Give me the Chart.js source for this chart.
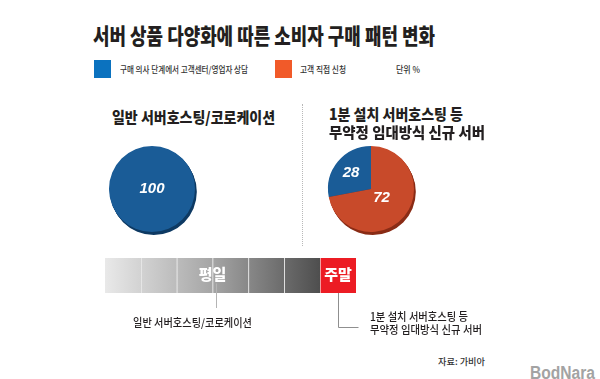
<!DOCTYPE html>
<html><head><meta charset="utf-8">
<script src="https://cdn.jsdelivr.net/npm/chart.js@4.4.1/dist/chart.umd.min.js"></script>
<style>
body{margin:0;background:#fff}
#wrap{position:relative;width:600px;height:379px;overflow:hidden;background:#fff;font-family:"Noto Sans CJK KR","Noto Sans",sans-serif;color:#231f20}
.t{position:absolute;white-space:nowrap;line-height:1;transform-origin:0 50%}
.box{position:absolute}
canvas{display:block}
</style></head><body>
<div id="wrap">
  <div class="box" style="left:302px;top:104px;height:142px;border-left:1px dotted #b8b8b8"></div>
  <canvas id="pieLeft" class="box" width="120" height="120" style="left:92px;top:129px"></canvas>
  <canvas id="pieRight" class="box" width="120" height="120" style="left:311px;top:129px"></canvas>
  <canvas id="bar" class="box" width="600" height="100" style="left:0;top:240px"></canvas>
</div>
<script>
// ---- data ----
const chartTitle = '서버 상품 다양화에 따른 소비자 구매 패턴 변화';
const seriesNames = ['구매 의사 단계에서 고객센터/영업자 상담', '고객 직접 신청'];
const unitLabel = '단위 %';
const pieTitles = ['일반 서버호스팅/코로케이션', '1분 설치 서버호스팅 등', '무약정 임대방식 신규 서버'];
const generalHostingValues = [100, 0];
const newServerValues = [28, 72];
const periodLabels = ['평일', '주말'];
const periodBlocks = [6, 1];
const sourceLabel = '자료: 가비아';

// ---- styles ----
const legendColors = ['#0b72bf', '#f15a29'];
const pieColors = ['#1a5c97', '#c84a2a'];
const depthColors = ['#0e3a63', '#8a2c16'];
const wrap = document.getElementById('wrap');

function addText(str, x, y, w, size, weight, color, family) {
  const d = document.createElement('div');
  d.className = 't';
  d.textContent = str;
  d.style.left = x + 'px';
  d.style.top = (y - size / 2) + 'px';
  d.style.fontSize = size + 'px';
  d.style.fontWeight = weight;
  d.style.color = color;
  if (family) d.style.fontFamily = family;
  wrap.appendChild(d);
  if (w) {
    const aw = d.getBoundingClientRect().width;
    d.style.transform = 'scaleX(' + (w / aw) + ')';
  }
  return d;
}
function addSquare(x, y, color) {
  const s = document.createElement('div');
  s.className = 'box';
  s.style.cssText = `left:${x}px;top:${y}px;width:17px;height:18px;background:${color}`;
  wrap.appendChild(s);
}

addText(chartTitle, 93, 34, 342, 22, 900, '#231f20');
addSquare(94, 60, legendColors[0]);
addText(seriesNames[0], 120, 69, 128, 9, 500, '#333');
addSquare(275, 60, legendColors[1]);
addText(seriesNames[1], 300, 69, 46, 9, 500, '#333');
addText(unitLabel, 396, 69, 24, 9, 500, '#333');
addText(pieTitles[0], 112, 116, 163, 15, 900, '#231f20');
addText(pieTitles[1], 329, 113, 134, 15, 900, '#231f20');
addText(pieTitles[2], 329, 131, 156, 15, 900, '#231f20');
addText(pieTitles[0], 133, 322, 119, 11, 500, '#231f20');
addText(pieTitles[1], 370, 316, 98, 11, 500, '#231f20');
addText(pieTitles[2], 370, 329, 112, 11, 500, '#231f20');
addText(sourceLabel, 438, 361, 47, 9, 500, '#333');
addText('BodNara', 530, 373, 65, 18, 700, '#a3a3a3', '"Liberation Sans","DejaVu Sans",sans-serif');

// ---- pies ----
const depthPlugin = {
  id: 'pieDepth',
  beforeDatasetsDraw(chart) {
    const ctx = chart.ctx;
    chart.getDatasetMeta(0).data.forEach((arc, i) => {
      const p = arc.getProps(['x', 'y', 'startAngle', 'endAngle', 'outerRadius']);
      if (p.endAngle - p.startAngle <= 0) return;
      ctx.save();
      ctx.fillStyle = depthColors[i];
      for (let d = 3; d >= 1; d--) {
        ctx.beginPath();
        ctx.moveTo(p.x + d * 0.6, p.y + d);
        ctx.arc(p.x + d * 0.6, p.y + d, p.outerRadius, p.startAngle, p.endAngle);
        ctx.closePath();
        ctx.fill();
      }
      ctx.restore();
    });
  }
};
const labelPlugin = {
  id: 'pieLabels',
  afterDatasetsDraw(chart, args, opts) {
    const ctx = chart.ctx;
    const vals = chart.data.datasets[0].data;
    chart.getDatasetMeta(0).data.forEach((arc, i) => {
      if (!vals[i]) return;
      const p = arc.getProps(['x', 'y', 'startAngle', 'endAngle', 'outerRadius']);
      const mid = (p.startAngle + p.endAngle) / 2;
      const r = vals[i] >= 100 ? 0 : p.outerRadius * opts.factors[i];
      ctx.save();
      ctx.fillStyle = '#fff';
      ctx.font = 'italic bold 15px "Liberation Sans Narrow","Liberation Sans",sans-serif';
      ctx.textAlign = 'center';
      ctx.textBaseline = 'middle';
      ctx.fillText(String(vals[i]), p.x + Math.cos(mid) * r, p.y + Math.sin(mid) * r);
      ctx.restore();
    });
  }
};
function makePie(id, values, factors) {
  return new Chart(document.getElementById(id), {
    type: 'pie',
    data: { labels: seriesNames, datasets: [{ data: values, backgroundColor: pieColors, borderWidth: 0 }] },
    options: {
      responsive: false, animation: false, radius: 43,
      rotation: -values[0] * 3.6,
      layout: { padding: 0 },
      plugins: { legend: { display: false }, tooltip: { enabled: false }, pieLabels: { factors: factors } }
    },
    plugins: [depthPlugin, labelPlugin]
  });
}
makePie('pieLeft', generalHostingValues, [0, 0]);
makePie('pieRight', newServerValues, [0.6, 0.32]);

// ---- period bar ----
const totalBlocks = periodBlocks.reduce((a, b) => a + b, 0);
const barDatasets = [];
periodBlocks.forEach((n, pi) => {
  for (let k = 0; k < n; k++) {
    barDatasets.push({
      data: [1],
      period: pi,
      barPercentage: 1, categoryPercentage: 1,
      borderSkipped: false,
      borderColor: pi === 0 ? 'rgba(255,255,255,0.75)' : 'rgba(255,190,190,0.9)',
      borderWidth: { left: barDatasets.length ? 1 : 0, top: 0, right: 0, bottom: 0 },
      backgroundColor: (c) => {
        if (pi === 1) return '#ec1c24';
        const ch = c.chart, x = ch.scales.x;
        if (!ch.chartArea || !x) return '#999';
        const g = ch.ctx.createLinearGradient(x.getPixelForValue(0), 0, x.getPixelForValue(periodBlocks[0]), 0);
        g.addColorStop(0, '#e9e9e9');
        g.addColorStop(0.5, '#a5a5a5');
        g.addColorStop(1, '#4e4e4e');
        return g;
      }
    });
  }
});
const barPlugin = {
  id: 'periodDeco',
  afterDatasetsDraw(chart) {
    const ctx = chart.ctx, x = chart.scales.x, a = chart.chartArea;
    const cy = (a.top + a.bottom) / 2;
    let start = 0;
    const centers = [];
    periodBlocks.forEach((n, i) => {
      const cx = x.getPixelForValue(start + n / 2);
      centers.push(cx);
      ctx.save();
      ctx.fillStyle = '#fff';
      ctx.font = '900 15px "Noto Sans CJK KR",sans-serif';
      ctx.textAlign = 'center';
      ctx.textBaseline = 'middle';
      ctx.fillText(periodLabels[i], cx, cy - 1);
      ctx.restore();
      start += n;
    });
    ctx.save();
    ctx.lineWidth = 1;
    ctx.strokeStyle = '#b4b4b4';
    const lx = Math.round(centers[0] + 3) + 0.5;
    ctx.beginPath();
    ctx.moveTo(lx, cy + 8);
    ctx.lineTo(lx, a.bottom + 15);
    ctx.stroke();
    ctx.strokeStyle = '#8f8f8f';
    const rx = Math.round(centers[1]) + 0.5;
    ctx.beginPath();
    ctx.moveTo(rx, a.bottom);
    ctx.lineTo(rx, a.bottom + 34.5);
    ctx.lineTo(rx + 20, a.bottom + 34.5);
    ctx.stroke();
    ctx.restore();
  }
};
new Chart(document.getElementById('bar'), {
  type: 'bar',
  data: { labels: [''], datasets: barDatasets },
  options: {
    indexAxis: 'y', responsive: false, animation: false,
    layout: { padding: { left: 105, right: 244, top: 18, bottom: 47 } },
    scales: {
      x: { stacked: true, display: false, min: 0, max: totalBlocks },
      y: { stacked: true, display: false }
    },
    plugins: { legend: { display: false }, tooltip: { enabled: false } }
  },
  plugins: [barPlugin]
});
</script>
</body></html>
